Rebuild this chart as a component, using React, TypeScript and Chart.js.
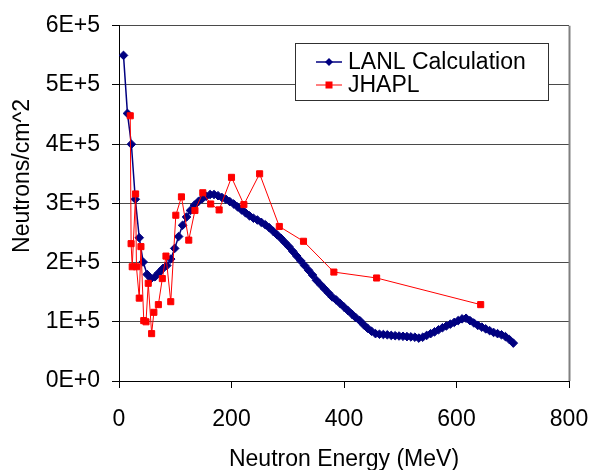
import React, { useEffect, useRef } from "react";
import { Chart, registerables } from "chart.js";

Chart.register(...registerables);

// LANL Calculation: neutron energy (MeV) and fluence (neutrons/cm^2)
const lanlEnergy = [
  8, 15, 22, 29, 36, 43, 50, 57, 64, 71, 78, 85, 92, 99, 106, 113, 120, 127, 134, 141,
  148, 155, 162, 169, 176, 183, 190, 197, 204, 211, 218, 225, 232, 239, 246, 253, 260, 267, 274, 281,
  288, 295, 302, 309, 316, 323, 330, 337, 344, 351, 358, 365, 372, 379, 386, 393, 400, 407, 414, 421,
  428, 435, 442, 449, 456, 463, 470, 477, 484, 491, 498, 505, 512, 519, 526, 533, 540, 547, 554, 561,
  568, 575, 582, 589, 596, 603, 610, 617, 624, 631, 638, 645, 652, 659, 666, 673, 680, 687, 694, 701,
];
const lanlFlux = [
  5.5e5, 4.52e5, 4.0e5, 3.07e5, 2.42e5, 2.01e5, 1.8e5, 1.73e5, 1.76e5, 1.83e5,
  1.9e5, 1.95e5, 2.06e5, 2.24e5, 2.44e5, 2.63e5, 2.77e5, 2.88e5, 2.97e5, 3.03e5,
  3.08e5, 3.12e5, 3.15e5, 3.15e5, 3.13e5, 3.1e5, 3.07e5, 3.03e5, 2.99e5, 2.94e5,
  2.89e5, 2.84e5, 2.79e5, 2.75e5, 2.72e5, 2.68e5, 2.64e5, 2.59e5, 2.53e5, 2.47e5,
  2.41e5, 2.34e5, 2.27e5, 2.19e5, 2.11e5, 2.03e5, 1.95e5, 1.87e5, 1.79e5, 1.7e5,
  1.63e5, 1.56e5, 1.49e5, 1.42e5, 1.37e5, 1.31e5, 1.25e5, 1.19e5, 1.13e5, 1.07e5,
  1.02e5, 0.95e5, 0.89e5, 0.84e5, 0.8e5, 0.79e5, 0.785e5, 0.78e5, 0.77e5, 0.765e5,
  0.76e5, 0.755e5, 0.75e5, 0.745e5, 0.74e5, 0.725e5, 0.74e5, 0.77e5, 0.8e5, 0.83e5,
  0.865e5, 0.9e5, 0.93e5, 0.96e5, 0.99e5, 1.02e5, 1.05e5, 1.06e5, 1.02e5, 0.98e5,
  0.94e5, 0.91e5, 0.88e5, 0.85e5, 0.82e5, 0.8e5, 0.78e5, 0.75e5, 0.7e5, 0.64e5,
];

// JHAPL measurement
const jhaplEnergy = [
  20, 21.5, 23.5, 29.5, 31, 36, 39, 44, 48, 52, 58, 62, 70, 77, 83.5, 92,
  101, 111, 124, 135, 149, 163, 178, 200, 222, 250, 285, 328, 382, 458, 643,
];
const jhaplFlux = [
  4.48e5, 2.32e5, 1.93e5, 3.16e5, 1.93e5, 1.4e5, 2.27e5, 1.02e5, 1.0e5, 1.65e5, 0.8e5, 1.16e5,
  1.29e5, 1.73e5, 2.11e5, 1.34e5, 2.8e5, 3.11e5, 2.38e5, 2.88e5, 3.18e5, 2.99e5, 2.89e5, 3.44e5,
  2.98e5, 3.5e5, 2.61e5, 2.36e5, 1.84e5, 1.74e5, 1.29e5,
];

const seriesNames = ["LANL Calculation", "JHAPL"];
const xTitle = "Neutron Energy (MeV)";
const yTitle = "Neutrons/cm^2";
const xMin = 0, xMax = 800, xStep = 200;
const yMin = 0, yMax = 6e5, yStep = 1e5;

const FONT = "'Liberation Sans', Arial, Helvetica, sans-serif";
const FS = 23;

const framePlugin = {
  id: "frame",
  afterDraw(chart: any) {
    const { ctx, chartArea } = chart;
    ctx.save();
    // right border of plot area
    ctx.strokeStyle = "#808080";
    ctx.lineWidth = 2;
    ctx.beginPath();
    ctx.moveTo(chartArea.right + 0.5, chartArea.top);
    ctx.lineTo(chartArea.right + 0.5, chartArea.bottom);
    ctx.stroke();

    // y axis title
    ctx.save();
    ctx.translate(23, 176);
    ctx.rotate(-Math.PI / 2);
    ctx.fillStyle = "#000";
    ctx.font = `${FS}px ${FONT}`;
    ctx.textAlign = "center";
    ctx.textBaseline = "middle";
    ctx.fillText(yTitle, 0, 0);
    ctx.restore();

    // legend box
    const bx = 295.5, by = 43.5, bw = 253, bh = 57;
    ctx.fillStyle = "#ffffff";
    ctx.fillRect(bx, by, bw, bh);
    ctx.strokeStyle = "#303030";
    ctx.lineWidth = 1;
    ctx.strokeRect(bx, by, bw, bh);

    const rows = [62, 85];
    chart.data.datasets.forEach((ds: any, i: number) => {
      const y = rows[i];
      ctx.strokeStyle = ds.borderColor;
      ctx.lineWidth = i === 0 ? 1.5 : 1;
      ctx.beginPath();
      ctx.moveTo(316, y);
      ctx.lineTo(342, y);
      ctx.stroke();
      ctx.fillStyle = ds.backgroundColor;
      ctx.beginPath();
      if (ds.pointStyle === "rectRot") {
        ctx.moveTo(329, y - 4);
        ctx.lineTo(333, y);
        ctx.lineTo(329, y + 4);
        ctx.lineTo(325, y);
        ctx.closePath();
        ctx.fill();
      } else {
        ctx.fillRect(325.5, y - 3.5, 7, 7);
      }
      ctx.fillStyle = "#000";
      ctx.font = `${FS}px ${FONT}`;
      ctx.textBaseline = "middle";
      ctx.textAlign = "left";
      ctx.fillText(ds.label, 348, y + 1);
    });
    ctx.restore();
  },
};

export default function App() {
  const ref = useRef<HTMLCanvasElement>(null);

  useEffect(() => {
    if (!ref.current) return;
    const lanl = lanlEnergy.map((x, i) => ({ x, y: lanlFlux[i] }));
    const jhapl = jhaplEnergy.map((x, i) => ({ x, y: jhaplFlux[i] }));
    const chart = new Chart(ref.current, {
      type: "scatter",
      data: {
        datasets: [
          {
            label: seriesNames[0],
            data: lanl,
            showLine: true,
            borderColor: "#000080",
            backgroundColor: "#000080",
            borderWidth: 1.5,
            pointStyle: "rectRot",
            pointRadius: 4.3,
            pointBorderWidth: 1,
            order: 2,
          },
          {
            label: seriesNames[1],
            data: jhapl,
            showLine: true,
            borderColor: "#ff0000",
            backgroundColor: "#ff0000",
            borderWidth: 1,
            pointStyle: "rect",
            pointRadius: 4.3,
            pointBorderWidth: 1,
            order: 1,
          },
        ],
      },
      options: {
        responsive: false,
        animation: false,
        events: [],
        layout: { padding: { top: 23, right: 23, bottom: 0, left: 0 } },
        plugins: {
          legend: { display: false },
          tooltip: { enabled: false },
        },
        scales: {
          x: {
            type: "linear",
            min: xMin,
            max: xMax,
            afterFit: (s: any) => {
              s.height = 89;
              s.paddingLeft = 0;
              s.paddingRight = 0;
            },
            ticks: {
              stepSize: xStep,
              color: "#000",
              padding: 18,
              maxRotation: 0,
              font: { family: FONT, size: FS },
            },
            grid: {
              drawOnChartArea: false,
              drawTicks: true,
              tickLength: 7,
              tickColor: "#000",
              color: "#000",
            },
            border: { color: "#000", width: 1 },
            title: {
              display: true,
              text: xTitle,
              color: "#000",
              font: { family: FONT, size: FS },
              padding: { top: 0, bottom: -3 },
            },
          },
          y: {
            type: "linear",
            min: yMin,
            max: yMax,
            afterFit: (s: any) => {
              s.width = 119;
            },
            ticks: {
              stepSize: yStep,
              color: "#000",
              padding: 12,
              font: { family: FONT, size: FS },
              callback: (v: any) => (v === 0 ? "0E+0" : `${Math.round(v / 1e5)}E+5`),
            },
            grid: {
              color: "#4a4a4a",
              lineWidth: 1,
              tickLength: 7,
              tickColor: "#000",
            },
            border: { color: "#000", width: 1 },
            title: { display: false },
          },
        },
      },
      plugins: [framePlugin],
    } as any);
    return () => chart.destroy();
  }, []);

  return (
    <div style={{ position: "fixed", left: 0, top: 0, width: 592, height: 470, background: "#fff" }}>
      <canvas ref={ref} width={592} height={470} />
    </div>
  );
}
